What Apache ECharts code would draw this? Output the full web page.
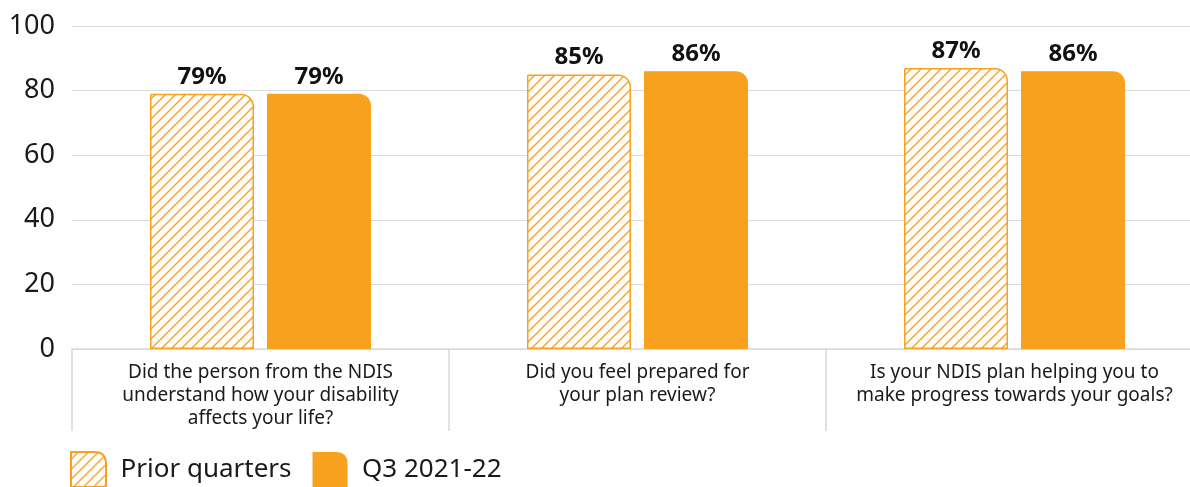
<!DOCTYPE html>
<html>
<head>
<meta charset="utf-8">
<script src="https://cdn.jsdelivr.net/npm/echarts@6/dist/echarts.min.js"></script>
<style>
html,body{margin:0;padding:0;background:#fff;}
#chart{width:1190px;height:487px;}
</style>
</head>
<body>
<div id="chart"></div>
<script>
const categories = [
  'Did the person from the NDIS\nunderstand how your disability\naffects your life?',
  'Did you feel prepared for\nyour plan review?',
  'Is your NDIS plan helping you to\nmake progress towards your goals?'
];
const seriesNames = ['Prior quarters', 'Q3 2021-22'];
const priorQuarters = [79, 85, 87];
const q3Values = [79, 86, 86];
const yMin = 0, yMax = 100, yInterval = 20;

const ORANGE = '#F8A11F';
const FONT = '"Noto Sans", sans-serif';

function makeHatch() {
  const s = 10;
  const c = document.createElement('canvas');
  c.width = s; c.height = s;
  const ctx = c.getContext('2d');
  ctx.fillStyle = '#fff';
  ctx.fillRect(0, 0, s, s);
  ctx.strokeStyle = ORANGE;
  ctx.lineWidth = 1.4;
  ctx.beginPath();
  ctx.moveTo(-1, s + 1); ctx.lineTo(s + 1, -1);
  ctx.moveTo(-1, 1); ctx.lineTo(1, -1);
  ctx.moveTo(s - 1, s + 1); ctx.lineTo(s + 1, s - 1);
  ctx.stroke();
  return c;
}
const hatch = { image: makeHatch(), repeat: 'repeat' };

const chart = echarts.init(document.getElementById('chart'), null, { renderer: 'canvas' });
const iconPath = 'path://M0,0 L66,0 Q100,0 100,34 L100,100 L0,100 Z';

chart.setOption({
  animation: false,
  textStyle: { fontFamily: FONT },
  grid: { left: 72, width: 1131, top: 26, height: 323, containLabel: false, outerBoundsMode: 'none' },
  legend: {
    left: 70, top: 451, padding: 0,
    itemWidth: 40, itemHeight: 35, itemGap: 21,
    textStyle: { fontSize: 26, color: '#1a1a1a', fontFamily: FONT, padding: [0, 0, 0, 7] },
    data: [
      { name: seriesNames[0], icon: iconPath },
      { name: seriesNames[1], icon: iconPath }
    ]
  },
  xAxis: {
    type: 'category',
    data: categories,
    axisLine: { show: true, lineStyle: { color: '#d9d9d9', width: 1.5 } },
    axisTick: { show: true, length: 82, lineStyle: { color: '#d9d9d9', width: 1.5 } },
    axisLabel: { fontSize: 19, color: '#1a1a1a', lineHeight: 23, margin: 12, fontFamily: FONT, interval: 0 }
  },
  yAxis: {
    type: 'value',
    min: yMin, max: yMax, interval: yInterval,
    axisLine: { show: false },
    axisTick: { show: false },
    splitLine: { lineStyle: { color: '#dcdcdc', width: 1.2 } },
    axisLabel: { fontSize: 27, color: '#1a1a1a', margin: 17, fontFamily: FONT }
  },
  series: [
    {
      name: seriesNames[0],
      type: 'bar',
      data: priorQuarters,
      barWidth: 104,
      barGap: '12.5%',
      itemStyle: { color: hatch, borderColor: ORANGE, borderWidth: 1.5, borderRadius: [0, 12, 0, 0] },
      label: { show: true, position: 'top', distance: 5, formatter: '{c}%', fontSize: 24, fontWeight: 'bold', color: '#111', fontFamily: FONT }
    },
    {
      name: seriesNames[1],
      type: 'bar',
      data: q3Values,
      barWidth: 104,
      itemStyle: { color: ORANGE, borderRadius: [0, 12, 0, 0] },
      label: { show: true, position: 'top', distance: 5, formatter: '{c}%', fontSize: 24, fontWeight: 'bold', color: '#111', fontFamily: FONT }
    }
  ]
});
</script>
</body>
</html>
